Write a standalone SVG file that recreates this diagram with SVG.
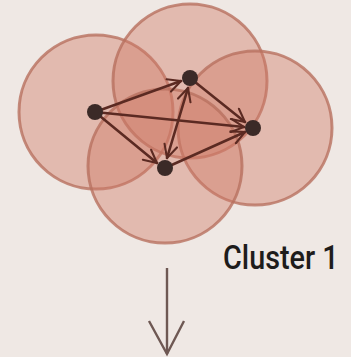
<svg xmlns="http://www.w3.org/2000/svg" width="351" height="357" viewBox="0 0 351 357">
<defs>
<style>
.blob{fill:#cf7a66;fill-opacity:0.42;stroke:#b8705f;stroke-width:3;stroke-opacity:0.8}
.edge{stroke:#5b2a22;stroke-width:2.6;fill:none;stroke-linecap:round}
.node{fill:#3b2a27}
.label{font-family:Roboto,"Liberation Sans",sans-serif;font-size:30px;font-weight:500;fill:#1e1c1b}
.down{stroke:#6e5853;stroke-width:2.4;fill:none}
</style>
<marker id="ah" viewBox="0 0 12 12" refX="11" refY="6" markerWidth="6" markerHeight="6" orient="auto" markerUnits="strokeWidth">
<path d="M1,1 L11,6 L1,11" fill="none" stroke="#5b2a22" stroke-width="1.6" stroke-linecap="round"/>
</marker>
<marker id="ahs" viewBox="0 0 12 12" refX="1" refY="6" markerWidth="6" markerHeight="6" orient="auto" markerUnits="strokeWidth">
<path d="M11,1 L1,6 L11,11" fill="none" stroke="#5b2a22" stroke-width="1.6" stroke-linecap="round"/>
</marker>
</defs>
<rect width="351" height="357" fill="#efe8e4"/>
<g id="clusters">
<circle class="blob" cx="96" cy="112" r="77"/>
<circle class="blob" cx="190" cy="81" r="77"/>
<circle class="blob" cx="255" cy="128" r="77"/>
<circle class="blob" cx="165" cy="166" r="77"/>
</g>
<g id="connectors">
<line class="edge" x1="95" y1="112" x2="181" y2="81" marker-end="url(#ah)"/>
<line class="edge" x1="95" y1="112" x2="244" y2="127" marker-end="url(#ah)"/>
<line class="edge" x1="95" y1="112" x2="157" y2="163" marker-end="url(#ah)"/>
<line class="edge" x1="190" y1="78" x2="245" y2="122" marker-end="url(#ah)"/>
<line class="edge" x1="165" y1="168" x2="245" y2="132" marker-end="url(#ah)"/>
<line class="edge" x1="188" y1="88" x2="167" y2="158" marker-start="url(#ahs)" marker-end="url(#ah)"/>
<line class="down" x1="167" y1="268" x2="167" y2="354"/>
<path class="down" d="M149,321 L167,354 L184,321"/>
</g>
<g id="node-left"><circle class="node" cx="95" cy="112" r="8"/></g>
<g id="node-top"><circle class="node" cx="190" cy="78" r="8"/></g>
<g id="node-right"><circle class="node" cx="253" cy="128" r="8"/></g>
<g id="node-bottom"><circle class="node" cx="165" cy="168" r="8"/></g>
<g id="label" transform="translate(223,269) scale(0.96,1.12)"><text class="label" x="0" y="0">Cluster 1</text></g>
</svg>
